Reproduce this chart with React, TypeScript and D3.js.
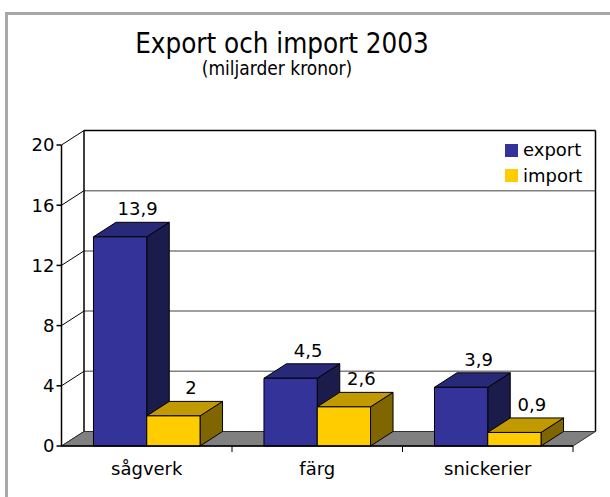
import React from "react";
import * as d3 from "d3";

const categories = ["sågverk", "färg", "snickerier"];
const seriesNames = ["export", "import"];
const exportValues = [13.9, 4.5, 3.9];
const importValues = [2, 2.6, 0.9];
const valueLabels = [["13,9", "4,5", "3,9"], ["2", "2,6", "0,9"]];
const yTicks = [0, 4, 8, 12, 16, 20];

const W = 610;
const H = 497;
const FONT = "'DejaVu Sans', Verdana, sans-serif";
const TITLE_FONT = "'DejaVu Sans Condensed', 'DejaVu Sans', Tahoma, sans-serif";

// depth of the 3d box
const DX = 22.5;
const DY = -14.5;

const colors = {
  export: { front: "#333399", top: "#29297a", side: "#1c1c4c" },
  import: { front: "#ffcc00", top: "#c09a00", side: "#806600" },
};

export default function App() {
  const y = d3.scaleLinear().domain([0, 20]).range([446, 145]);
  const x = d3.scaleBand<string>().domain(categories).range([61.5, 573]);
  const inner = d3
    .scaleBand<string>()
    .domain(seriesNames)
    .range([0, x.bandwidth()])
    .paddingInner(0)
    .paddingOuter(0.6);

  const left = 61.5;
  const right = 573;
  const y0 = y(0);
  const yTop = y(20);

  const series = [exportValues, importValues];

  const bars: JSX.Element[] = [];
  const labels: JSX.Element[] = [];
  categories.forEach((cat, ci) => {
    seriesNames.forEach((s, si) => {
      const v = series[si][ci];
      const c = colors[s as "export" | "import"];
      const x0 = x(cat)! + inner(s)!;
      const x1 = x0 + inner.bandwidth();
      const yt = y(v);
      const top = `${x0},${yt} ${x0 + DX},${yt + DY} ${x1 + DX},${yt + DY} ${x1},${yt}`;
      const side = `${x1},${yt} ${x1 + DX},${yt + DY} ${x1 + DX},${y0 + DY} ${x1},${y0}`;
      bars.push(
        <g key={`${cat}-${s}`} stroke="#000" strokeWidth={1} strokeLinejoin="round">
          <polygon points={side} fill={c.side} />
          <polygon points={top} fill={c.top} />
          <rect x={x0} y={yt} width={x1 - x0} height={y0 - yt} fill={c.front} />
        </g>
      );
      labels.push(
        <text
          key={`l-${cat}-${s}`}
          x={(x0 + x1) / 2 + DX * 0.78}
          y={yt + DY - 7}
          textAnchor="middle"
          fontSize={18}
          fontFamily={FONT}
          fill="#000"
        >
          {valueLabels[si][ci]}
        </text>
      );
    });
  });

  const floor = `${left},${y0} ${left + DX},${y0 + DY} ${right + DX},${y0 + DY} ${right},${y0}`;

  return (
    <svg
      width={W}
      height={H}
      style={{ position: "absolute", left: 0, top: 0, background: "#fff" }}
    >
      <rect x={6.5} y={13.5} width={W + 20} height={H + 20} fill="#fff" stroke="#a8a8a8" strokeWidth={3} />

      <text x={282} y={53} textAnchor="middle" fontSize={27.5} fontFamily={TITLE_FONT} fill="#000">
        Export och import 2003
      </text>
      <text x={277} y={75} textAnchor="middle" fontSize={19} fontFamily={TITLE_FONT} fill="#000">
        (miljarder kronor)
      </text>

      {/* back wall */}
      <rect x={left + DX} y={yTop + DY} width={right - left} height={y0 - yTop} fill="#fff" stroke="none" />
      {yTicks
        .filter((t) => t > 0 && t < 20)
        .map((t) => (
          <line
            key={`g${t}`}
            x1={left + DX}
            x2={right + DX}
            y1={y(t) + DY}
            y2={y(t) + DY}
            stroke="#808080"
            strokeWidth={1.5}
          />
        ))}
      <line x1={left + DX} x2={right + DX} y1={yTop + DY} y2={yTop + DY} stroke="#000" strokeWidth={1.5} />
      <line x1={left + DX} x2={left + DX} y1={yTop + DY} y2={y0 + DY} stroke="#000" strokeWidth={1.5} />
      <line x1={right + DX} x2={right + DX} y1={yTop + DY} y2={y0 + DY} stroke="#000" strokeWidth={1.5} />

      {/* side wall diagonals */}
      {yTicks.map((t) => (
        <line key={`d${t}`} x1={left} y1={y(t)} x2={left + DX} y2={y(t) + DY} stroke="#000" strokeWidth={1} />
      ))}

      {/* floor */}
      <polygon points={floor} fill="#808080" stroke="#333" strokeWidth={1} />

      {bars}

      {/* axes */}
      <line x1={left} x2={left} y1={yTop} y2={y0} stroke="#000" strokeWidth={1.5} />
      <line x1={left} x2={right} y1={y0} y2={y0} stroke="#000" strokeWidth={1.5} />
      {yTicks.map((t) => (
        <g key={`t${t}`}>
          <line x1={left - 5} x2={left} y1={y(t)} y2={y(t)} stroke="#000" strokeWidth={1.5} />
          <text
            x={left - 7}
            y={y(t)}
            dy="0.36em"
            textAnchor="end"
            fontSize={18}
            fontFamily={FONT}
            fill="#000"
          >
            {t}
          </text>
        </g>
      ))}
      {categories.map((c) => (
        <g key={`c${c}`}>
          <line
            x1={x(c)! + x.bandwidth()}
            x2={x(c)! + x.bandwidth()}
            y1={y0}
            y2={y0 + 6}
            stroke="#000"
            strokeWidth={1}
          />
          <text
            x={x(c)! + x.bandwidth() / 2}
            y={475}
            textAnchor="middle"
            fontSize={18}
            fontFamily={FONT}
            fill="#000"
          >
            {c}
          </text>
        </g>
      ))}

      {labels}

      {/* legend */}
      {seriesNames.map((s, i) => (
        <g key={`lg${s}`}>
          <rect x={505} y={144 + i * 25} width={13} height={13} fill={colors[s as "export" | "import"].front} />
          <text x={523} y={156 + i * 26} fontSize={18} fontFamily={FONT} fill="#000">
            {s}
          </text>
        </g>
      ))}
    </svg>
  );
}
